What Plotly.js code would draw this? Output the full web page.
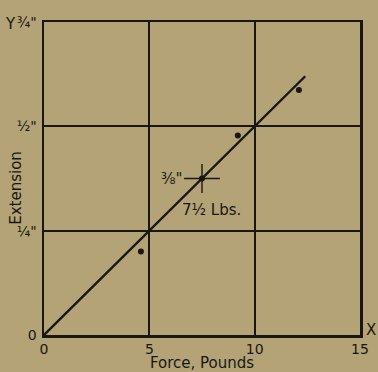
<!DOCTYPE html>
<html>
<head>
<meta charset="utf-8">
<script src="https://cdn.plot.ly/plotly-3.0.1.min.js"></script>
<style>html,body{margin:0;padding:0;background:#b3a377;}</style>
</head>
<body>
<div id="chart" style="width:378px;height:372px;"></div>
<script>
// Fitted line (extension vs force)
const lineX = [0, 12.4];
const lineY = [0, 0.62];
// Observed points
const pointsX = [4.6, 9.2, 12.1];
const pointsY = [0.2, 0.478, 0.587];
// Marked reading
const markX = [7.5];
const markY = [0.375];
// Ticks
const xTickVals = [0, 5, 10, 15];
const xTickText = ['0', '5', '10', '15'];
const yTickVals = [0, 0.25, 0.5, 0.75];
const yTickText = ['0', '¼"', '½"', '¾"'];

const ink = '#1a1712';
const bg = '#b3a377';
const font = {family: 'DejaVu Sans, sans-serif', color: ink, size: 14};
const bigFont = Object.assign({}, font, {size: 15});

const traces = [
  {x: lineX, y: lineY, mode: 'lines', line: {color: ink, width: 2.4}, hoverinfo: 'skip', showlegend: false},
  {x: pointsX, y: pointsY, mode: 'markers', marker: {color: ink, size: 6}, showlegend: false},
  {x: markX, y: markY, mode: 'markers', marker: {color: ink, size: 6}, showlegend: false,
   error_x: {type: 'constant', value: 0.85, width: 0, color: ink, thickness: 1.4},
   error_y: {type: 'constant', value: 0.035, width: 0, color: ink, thickness: 1.4}}
];

const axisCommon = {
  showline: true, linecolor: ink, linewidth: 2.5, mirror: true,
  showgrid: true, gridcolor: ink, gridwidth: 1.7,
  zeroline: false, ticks: '', tickfont: font, fixedrange: true
};

const layout = {
  width: 378, height: 372,
  margin: {l: 44, r: 18, t: 22, b: 37},
  paper_bgcolor: bg, plot_bgcolor: bg,
  font: font,
  showlegend: false,
  xaxis: Object.assign({}, axisCommon, {
    range: [0, 15], tickvals: xTickVals, ticktext: xTickText, ticklabelstandoff: 0,
    title: {text: 'Force, Pounds', font: bigFont, standoff: 0}
  }),
  yaxis: Object.assign({}, axisCommon, {
    range: [0, 0.75], tickvals: yTickVals, ticktext: yTickText, ticklabelstandoff: 2
  }),
  annotations: [
    {x: -0.089, y: 0.47, xref: 'paper', yref: 'paper', text: 'Extension', showarrow: false, textangle: -90,
     xanchor: 'center', yanchor: 'middle', font: bigFont},
    {x: 15, y: 0, xref: 'x', yref: 'y', text: 'X', showarrow: false, xanchor: 'left', yanchor: 'bottom', xshift: 4, yshift: -6, font: bigFont},
    {x: 0, y: 0.75, xref: 'x', yref: 'y', text: 'Y', showarrow: false, xanchor: 'right', yanchor: 'middle', xshift: -26, yshift: -2, font: bigFont},
    {x: 7.5, y: 0.375, xref: 'x', yref: 'y', text: '⅜"', showarrow: false, xanchor: 'right', yanchor: 'middle', xshift: -18, yshift: 0, font: bigFont},
    {x: 7.5, y: 0.375, xref: 'x', yref: 'y', text: '7½ Lbs.', showarrow: false, xanchor: 'center', yanchor: 'top', xshift: 9, yshift: -20, font: bigFont}
  ]
};

Plotly.newPlot('chart', traces, layout, {staticPlot: true, displayModeBar: false});
</script>
</body>
</html>
